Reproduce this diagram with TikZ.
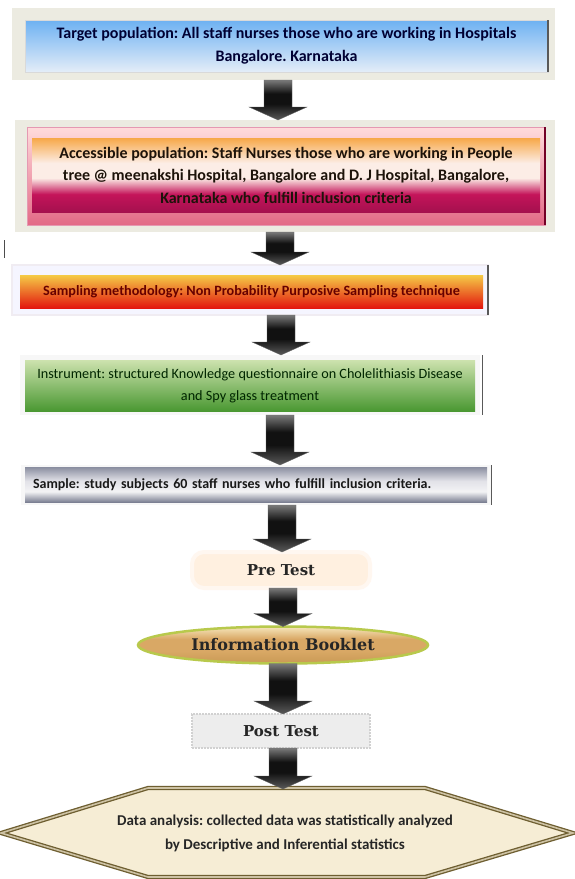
\documentclass[tikz,border=0pt]{standalone}
\usepackage{fontspec}
\setmainfont{Carlito}
\newfontfamily\slab{DejaVu Serif}
\usetikzlibrary{calc,shapes.geometric}
\frenchspacing

\definecolor{blueT}{HTML}{6DB1F2}
\definecolor{blueB}{HTML}{E4EDF8}
\definecolor{frameC}{HTML}{ECEBE1}
\definecolor{accO}{HTML}{F7A848}
\definecolor{accW}{HTML}{FCEDE6}
\definecolor{accM}{HTML}{C4145A}
\definecolor{accD}{HTML}{A5104E}
\definecolor{sampT}{HTML}{F5CB46}
\definecolor{sampB}{HTML}{E3160E}
\definecolor{grnT}{HTML}{CDE2AE}
\definecolor{grnB}{HTML}{4A9832}
\definecolor{metA}{HTML}{8A8EA0}
\definecolor{metB}{HTML}{E2E2E8}
\definecolor{metC}{HTML}{F3F3F5}
\definecolor{metD}{HTML}{7C8093}
\definecolor{arrT}{HTML}{7A7A7A}
\definecolor{arrM}{HTML}{111111}
\definecolor{arrB}{HTML}{5A5A5A}
\definecolor{goldT}{HTML}{F6E6BC}
\definecolor{goldM}{HTML}{D9A865}
\definecolor{goldB}{HTML}{C99A55}
\definecolor{hexF}{HTML}{F6EDD5}
\definecolor{hexD}{HTML}{6E5E30}

\pgfdeclareverticalshading{accsh}{100bp}{color(0bp)=(accD); color(25bp)=(accD); color(37bp)=(accM); color(48bp)=(accW); color(58bp)=(accW); color(75bp)=(accO); color(100bp)=(accO)}
\pgfdeclareverticalshading{metsh}{100bp}{color(0bp)=(metD); color(25bp)=(metD); color(40bp)=(metC); color(55bp)=(metB); color(75bp)=(metA); color(100bp)=(metA)}
\pgfdeclareverticalshading{arrsh}{100bp}{color(0bp)=(arrB); color(25bp)=(arrB); color(45bp)=(arrM); color(58bp)=(arrM); color(75bp)=(arrT); color(100bp)=(arrT)}
\pgfdeclareverticalshading{goldsh}{100bp}{color(0bp)=(goldB); color(25bp)=(goldB); color(42bp)=(goldM); color(58bp)=(goldM); color(75bp)=(goldT); color(100bp)=(goldT)}

\newcommand{\fatarrow}[3]{%
  \path[arrowfill] let \p1=(#1.south), \p2=(#2.north) in
    (#3pt-14pt,\y1) -- (#3pt+14pt,\y1) -- (#3pt+14pt,\y2+13pt) -- (#3pt+29pt,\y2+13pt)
    -- (#3pt,\y2) -- (#3pt-29pt,\y2+13pt) -- (#3pt-14pt,\y2+13pt) -- cycle;}

\begin{document}
\begin{tikzpicture}[x=1pt,y=-1pt,
  every node/.style={inner sep=0pt, outer sep=0pt},
  frame/.style={rectangle, fill=frameC},
  txt/.style={align=center, font=\fontsize{16}{23}\selectfont\bfseries},
  edge/.style={draw=black!65, line width=1.2pt},
  arrowfill/.style={shade, shading=arrsh, draw=black!60, line width=0.3pt},
  serifbold/.style={font=\slab\bfseries\fontsize{15}{17}\selectfont, text=black!85}
]
\useasboundingbox (0,0) rectangle (574,879);
\fill[white] (0,0) rectangle (574,879);

% Box 1
\node[frame, minimum width=543pt, minimum height=72pt] (f1) at (283.5,44) {};
\node[txt, text=blue!20!black, top color=blueT, bottom color=blueB, draw=white!85!black,
      minimum width=523pt, minimum height=52pt] (t1) at (286.5,46)
  {Target population: All staff nurses those who are working in Hospitals\\Bangalore. Karnataka};
\draw[edge] (t1.north east) -- (t1.south east);

% Box 2
\node[frame, minimum width=540pt, minimum height=112pt] (f2) at (285,176) {};
\node[rectangle, top color=pink!55, bottom color=purple!45!pink, draw=purple!40,
      minimum width=518pt, minimum height=98pt] (p2) at (286,176) {};
\node[txt, font=\fontsize{16}{22.5}\selectfont\bfseries, text=black!85!brown, shade, shading=accsh,
      minimum width=508pt, minimum height=74pt] (t2) at (286,175)
  {Accessible population: Staff Nurses those who are working in People\\tree @ meenakshi Hospital, Bangalore and D. J Hospital, Bangalore,\\Karnataka who fulfill inclusion criteria};
\draw[line width=2pt, purple!60!black] (p2.north east) -- (p2.south east);

\draw[black!70, line width=1pt] (4,240) -- (4,258);

% Box 3
\node[rectangle, fill=blue!4, draw=yellow!30!blue!8, line width=1.5pt, minimum width=476pt, minimum height=50pt] (f3) at (250,290) {};
\node[txt, font=\fontsize{14.2}{16}\selectfont\bfseries, text=red!40!black, top color=sampT, bottom color=sampB,
      minimum width=463pt, minimum height=33pt] (t3) at (251.5,291.5)
  {Sampling methodology: Non Probability Purposive Sampling technique};
\draw[edge] (f3.north east) -- (f3.south east);

% Box 4
\node[rectangle, fill=black!3, minimum width=460pt, minimum height=60pt] (f4) at (250,385) {};
\node[txt, font=\fontsize{14.2}{22}\selectfont, text=black!85!green, top color=grnT, bottom color=grnB,
      minimum width=450pt, minimum height=51pt] (t4) at (250,385.5)
  {Instrument: structured Knowledge questionnaire on Cholelithiasis Disease\\and Spy glass treatment};
\draw[edge, line width=1pt] ([xshift=2pt]f4.north east) -- ([xshift=2pt]f4.south east);

% Box 5
\node[rectangle, fill=black!3, minimum width=470pt, minimum height=40pt] (f5) at (256,485) {};
\node[txt, font=\fontsize{14}{16}\selectfont\bfseries, align=left, text width=446pt, text=black!90,
      shade, shading=metsh, minimum width=462pt, minimum height=35pt, inner xsep=8pt] (t5) at (256,484.5)
  {Sample: study subjects 60 staff nurses who fulfill inclusion criteria.};
\draw[edge, line width=1pt] (f5.north east) -- (f5.south east);

% Pre Test
\node[serifbold, rectangle, rounded corners=12pt, fill=orange!12!white, draw=orange!6!white, line width=4pt,
      minimum width=178pt, minimum height=36pt] (pre) at (281,570) {Pre Test};

% Information Booklet
\node[serifbold, font=\slab\bfseries\fontsize{16}{18}\selectfont, ellipse, shade, shading=goldsh,
      draw=lime!40!olive!70!white, line width=2.5pt,
      minimum width=290pt, minimum height=37pt] (ib) at (283,645) {Information Booklet};

% Post Test
\node[serifbold, rectangle, fill=black!7, draw=black!18, densely dotted, line width=2pt,
      minimum width=178pt, minimum height=34pt] (post) at (281,731) {Post Test};

% Data analysis hexagon
\draw[draw=hexD, line width=1.3pt, double=hexF!70!hexD, double distance=1.6pt, fill=hexF]
  (1,833) -- (148,788) -- (425,788) -- (573,833) -- (425,877) -- (148,877) -- cycle;
\node[txt, font=\fontsize{15}{24}\selectfont\bfseries, text=black!85, minimum width=400pt, minimum height=89pt] (da) at (285,833.5)
  {Data analysis: collected data was statistically analyzed\\by Descriptive and Inferential statistics};

% Arrows
\fatarrow{f1}{f2}{278}
\fatarrow{f2}{f3}{280}
\fatarrow{f3}{f4}{281}
\fatarrow{f4}{f5}{280}
\fatarrow{f5}{pre}{282}
\fatarrow{pre}{ib}{283}
\fatarrow{ib}{post}{283}
\fatarrow{post}{da}{283}
\end{tikzpicture}
\end{document}
